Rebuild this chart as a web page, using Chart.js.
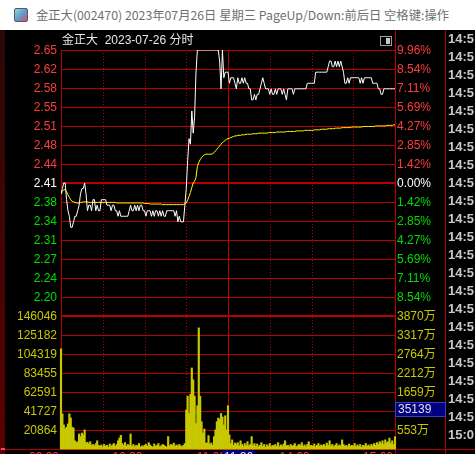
<!DOCTYPE html>
<html>
<head>
<meta charset="utf-8">
<script src="https://cdn.jsdelivr.net/npm/chart.js@4.4.0/dist/chart.umd.min.js"></script>
<style>
  html, body { margin: 0; padding: 0; background: #000; overflow: hidden; }
  #wrap { position: relative; width: 475px; height: 454px; }
  #titlebar { position: absolute; left: 0; top: 0; width: 475px; height: 30px; background: #fff;
    font: 12.3px "Noto Sans CJK SC", sans-serif; color: #707070; white-space: nowrap; z-index: 2; }
  #titlebar .ico { position: absolute; left: 14px; top: 8px; width: 12px; height: 12px; border-radius: 2px;
    background: linear-gradient(135deg, #9fd8c0 0%, #5aa0d0 50%, #e05050 100%); border: 1px solid #557; }
  #titlebar .txt { position: absolute; left: 36px; top: 6px; }
  #c { position: absolute; left: 0; top: 0; }
</style>
</head>
<body>
<div id="wrap">
  <div id="titlebar"><div class="ico"></div><div class="txt">金正大(002470) 2023年07月26日 星期三 PageUp/Down:前后日 空格键:操作</div></div>
  <canvas id="c" width="475" height="454"></canvas>
</div>
<script>
const prevClose = 2.41;
const chartTitle = "金正大  2023-07-26 分时";

// price axis ticks (left) and percent ticks (right)
const priceLabels = ["2.65", "2.62", "2.58", "2.55", "2.51", "2.48", "2.44", "2.41", "2.38", "2.34", "2.31", "2.27", "2.24", "2.20"];
const pctTicks = [9.96, 8.54, 7.11, 5.69, 4.27, 2.85, 1.42, 0, -1.42, -2.85, -4.27, -5.69, -7.11, -8.54];

// volume axis ticks (left) and amount labels (right)
const volTicks = [146046, 125182, 104319, 83455, 62591, 41727, 20864];
const amountLabels = ["3870万", "3317万", "2764万", "2212万", "1659万", "1106万", "553万"];

// time axis
const timeTicks = [0, 30, 60, 90, 120, 150, 180, 210, 240];
const timeLabelTicks = [0, 60, 120, 180, 240];
const timeLabels = ["09:30", "10:30", "11:30", "14:00", "15:00"];

// crosshair readout
const crossMinute = 116;
const crossTime = "11:26";
const crossVol = 35139;

// side list of trade times (cut off by the window)
const tradeTimes = ["14:5", "14:5", "14:5", "14:5", "14:5", "14:5", "14:5", "14:5", "14:5", "14:5", "14:5",
  "14:5", "14:5", "14:5", "14:5", "14:5", "14:5", "14:5", "14:5", "14:5", "14:5", "14:5", "15:0"];

// one value per minute, 241 minutes
const price = [
  2.39, 2.40, 2.41, 2.41, 2.38, 2.36, 2.35, 2.33, 2.33, 2.34,
  2.35, 2.35, 2.36, 2.37, 2.39, 2.40, 2.40, 2.41, 2.39, 2.36,
  2.37, 2.37, 2.36, 2.38, 2.38, 2.36, 2.37, 2.36, 2.36, 2.38,
  2.38, 2.38, 2.38, 2.37, 2.37, 2.37, 2.36, 2.37, 2.37, 2.36,
  2.36, 2.35, 2.36, 2.35, 2.35, 2.35, 2.35, 2.35, 2.35, 2.36,
  2.37, 2.36, 2.36, 2.37, 2.36, 2.37, 2.36, 2.37, 2.37, 2.36,
  2.36, 2.35, 2.36, 2.36, 2.36, 2.35, 2.36, 2.35, 2.36, 2.36,
  2.35, 2.36, 2.35, 2.36, 2.35, 2.35, 2.36, 2.36, 2.36, 2.36,
  2.36, 2.36, 2.35, 2.36, 2.34, 2.35, 2.34, 2.34, 2.34, 2.37,
  2.40, 2.45, 2.49, 2.48, 2.54, 2.50, 2.53, 2.61, 2.65, 2.65,
  2.65, 2.65, 2.65, 2.65, 2.65, 2.65, 2.65, 2.65, 2.65, 2.65,
  2.65, 2.65, 2.65, 2.65, 2.63, 2.58, 2.65, 2.60, 2.61, 2.61,
  2.61, 2.59, 2.60, 2.60, 2.60, 2.59, 2.58, 2.60, 2.59, 2.59,
  2.60, 2.59, 2.60, 2.59, 2.59, 2.58, 2.58, 2.56, 2.56, 2.57,
  2.56, 2.57, 2.57, 2.58, 2.59, 2.60, 2.59, 2.58, 2.58, 2.58,
  2.57, 2.58, 2.57, 2.57, 2.58, 2.57, 2.58, 2.58, 2.58, 2.57,
  2.58, 2.57, 2.56, 2.58, 2.58, 2.58, 2.58, 2.57, 2.58, 2.58,
  2.58, 2.58, 2.58, 2.58, 2.58, 2.58, 2.58, 2.59, 2.59, 2.59,
  2.59, 2.59, 2.59, 2.61, 2.61, 2.61, 2.61, 2.61, 2.61, 2.61,
  2.61, 2.61, 2.62, 2.63, 2.63, 2.62, 2.62, 2.63, 2.62, 2.63,
  2.62, 2.63, 2.62, 2.61, 2.59, 2.59, 2.60, 2.59, 2.60, 2.60,
  2.60, 2.60, 2.60, 2.60, 2.60, 2.59, 2.60, 2.59, 2.60, 2.60,
  2.60, 2.60, 2.60, 2.60, 2.59, 2.59, 2.59, 2.59, 2.58, 2.58,
  2.57, 2.57, 2.58, 2.58, 2.58, 2.58, 2.58, 2.58, 2.58, 2.58,
  2.58
];

const avgPrice = [
  2.390, 2.395, 2.398, 2.398, 2.394, 2.389, 2.384, 2.380, 2.377, 2.376,
  2.375, 2.374, 2.374, 2.374, 2.375, 2.375, 2.376, 2.376, 2.376, 2.376,
  2.375, 2.375, 2.375, 2.375, 2.375, 2.375, 2.375, 2.375, 2.375, 2.375,
  2.375, 2.375, 2.375, 2.375, 2.375, 2.375, 2.375, 2.375, 2.375, 2.375,
  2.374, 2.374, 2.374, 2.374, 2.374, 2.374, 2.374, 2.374, 2.374, 2.374,
  2.374, 2.374, 2.374, 2.374, 2.374, 2.374, 2.374, 2.374, 2.374, 2.374,
  2.373, 2.373, 2.373, 2.373, 2.372, 2.372, 2.372, 2.372, 2.372, 2.372,
  2.372, 2.372, 2.372, 2.371, 2.371, 2.371, 2.371, 2.371, 2.371, 2.371,
  2.371, 2.371, 2.371, 2.371, 2.371, 2.371, 2.371, 2.371, 2.371, 2.372,
  2.374, 2.379, 2.386, 2.393, 2.402, 2.410, 2.413, 2.420, 2.440, 2.447,
  2.452, 2.456, 2.459, 2.461, 2.462, 2.462, 2.462, 2.462, 2.462, 2.463,
  2.465, 2.468, 2.471, 2.474, 2.477, 2.480, 2.483, 2.485, 2.487, 2.489,
  2.490, 2.491, 2.492, 2.493, 2.494, 2.495, 2.495, 2.496, 2.496, 2.496,
  2.497, 2.497, 2.497, 2.498, 2.498, 2.498, 2.498, 2.498, 2.499, 2.499,
  2.499, 2.499, 2.500, 2.500, 2.500, 2.500, 2.500, 2.500, 2.500, 2.501,
  2.501, 2.501, 2.501, 2.501, 2.501, 2.502, 2.502, 2.502, 2.502, 2.502,
  2.502, 2.502, 2.503, 2.503, 2.503, 2.503, 2.503, 2.503, 2.503, 2.504,
  2.504, 2.504, 2.504, 2.504, 2.504, 2.505, 2.505, 2.505, 2.505, 2.505,
  2.505, 2.505, 2.506, 2.506, 2.506, 2.506, 2.506, 2.507, 2.507, 2.507,
  2.507, 2.507, 2.508, 2.508, 2.508, 2.508, 2.508, 2.509, 2.509, 2.509,
  2.509, 2.509, 2.510, 2.510, 2.510, 2.510, 2.510, 2.510, 2.510, 2.511,
  2.511, 2.511, 2.511, 2.511, 2.511, 2.511, 2.511, 2.512, 2.512, 2.512,
  2.512, 2.512, 2.512, 2.512, 2.512, 2.512, 2.513, 2.513, 2.513, 2.513,
  2.513, 2.513, 2.513, 2.513, 2.514, 2.514, 2.514, 2.514, 2.514, 2.515,
  2.515
];

const volume = [
  110000, 38600, 26500, 22000, 24000, 27600, 38600, 34000, 24000, 23000,
  9000, 7000, 8000, 16500, 13600, 17500, 15500, 21000, 6600, 7400,
  5500, 8000, 4000, 5000, 3500, 6000, 9000, 4000, 3000, 4500,
  2500, 5000, 3000, 4000, 2000, 5500, 3000, 4500, 6000, 3000,
  5000, 9000, 12000, 15000, 6000, 4000, 7000, 3000, 5000, 4000,
  16500, 3000, 5000, 2500, 4000, 3500, 6000, 2000, 3500, 2500,
  4000, 5000, 3000, 7000, 4500, 3000, 2000, 5500, 3000, 4000,
  6000, 2500, 3500, 5000, 4000, 3000, 2000, 13600, 3500, 5000,
  4000, 6500, 3000, 4500, 3000, 5000, 3500, 2500, 4000, 6000,
  43000, 58000, 39000, 60000, 89000, 76000, 58000, 28000, 47500, 133000,
  58000, 30000, 17500, 22000, 6600, 6600, 14700, 5000, 6600, 4000,
  13600, 21000, 30000, 34000, 32500, 39000, 35139, 26500, 36500, 21000,
  47500, 15500, 6000, 10000, 4000, 6600, 5000, 7000, 3500, 9000,
  5000, 3000, 6000, 4000, 8000, 3500, 5000, 13600, 4000, 6000,
  3000, 5500, 2500, 4000, 7000, 3000, 5000, 2000, 4500, 3000,
  6000, 2500, 4000, 3500, 5000, 3000, 7000, 2500, 4500, 3000,
  5500, 9000, 3500, 4000, 2500, 5000, 3000, 4000, 6000, 2500,
  3500, 5000, 4000, 7000, 3000, 4500, 2500, 5000, 8000, 3500,
  4000, 3000, 5500, 2500, 4000, 6000, 3000, 4500, 3500, 5000,
  3000, 6500, 4000, 9000, 3500, 5000, 2500, 4000, 6000, 3000,
  4500, 3500, 10000, 5000, 3000, 4000, 2500, 5500, 3000, 4000,
  3500, 6000, 2500, 4500, 3000, 5000, 2000, 4000, 3500, 6000,
  3000, 4500, 2500, 5000, 3500, 6000, 4000, 7000, 5000, 8000,
  6000, 9000, 5000, 10000, 7000, 8000, 12000, 6000, 9000, 5000,
  13600
];

const RED = "#b80000";
const UP = "#ff3c3c";
const DOWN = "#00dc00";
const VOLC = "#c8c800";
const FONT = '12px "Liberation Sans", "Noto Sans CJK SC", sans-serif';

// 21 equal rows: 13 for price, 1 gap, 7 for volume
const pctStep = 1.4228;
const priceMax = prevClose * (1 + pctTicks[0] / 100);
const priceMin = priceMax - prevClose * pctStep / 100 * 21;
const volMax = volTicks[0] * 3;

const toXY = arr => arr.map((v, i) => ({ x: i, y: v }));

const panelPlugin = {
  id: "panel",
  beforeDraw(chart) {
    const { ctx, width, height } = chart;
    ctx.save();
    ctx.fillStyle = "#000";
    ctx.fillRect(0, 0, width, height);
    const g = ctx.createLinearGradient(0, 30, 0, height);
    g.addColorStop(0, "#2a0808");
    g.addColorStop(1, "#5c0000");
    ctx.fillStyle = g;
    ctx.fillRect(0, 30, 5, height - 30);
    ctx.restore();
  },
  beforeDatasetsDraw(chart) {
    const { ctx, chartArea: a, scales: { x, y, yv } } = chart;
    ctx.save();
    ctx.strokeStyle = RED;
    const hline = (yy, x0, x1, w) => {
      const p = w === 2 ? Math.round(yy) : Math.round(yy) + 0.5;
      ctx.lineWidth = w;
      ctx.beginPath(); ctx.moveTo(x0, p); ctx.lineTo(x1, p); ctx.stroke();
    };
    pctTicks.forEach(p => hline(y.getPixelForValue(prevClose * (1 + p / 100)), a.left, a.right, p === 0 ? 2 : 1));
    volTicks.forEach((v, i) => hline(yv.getPixelForValue(v), a.left, a.right, i === 0 ? 2 : 1));
    hline(a.bottom, 0, chart.width, 1);

    timeTicks.forEach(m => {
      const px = Math.round(x.getPixelForValue(m)) + 0.5;
      const solid = m === 0 || m === 120 || m === 240;
      ctx.lineWidth = 1;
      ctx.setLineDash(solid ? [] : [1, 2]);
      ctx.beginPath();
      if (m === 240) { ctx.moveTo(px, 30); ctx.lineTo(px, chart.height); }
      else { ctx.moveTo(px, a.top); ctx.lineTo(px, a.bottom); }
      ctx.stroke();
    });
    ctx.setLineDash([]);
    ctx.beginPath(); ctx.moveTo(445.5, 30); ctx.lineTo(445.5, chart.height); ctx.stroke();
    ctx.restore();
  },
  afterDraw(chart) {
    const { ctx, chartArea: a, scales: { x, y, yv } } = chart;
    ctx.save();
    ctx.font = FONT;
    ctx.textBaseline = "middle";

    // header row
    ctx.fillStyle = "#e8e8e8";
    ctx.textAlign = "left";
    ctx.fillText(chartTitle, 62, 41);
    ctx.strokeStyle = "#a0a0a0";
    ctx.lineWidth = 1;
    ctx.strokeRect(380.5, 36.5, 11, 9);
    ctx.fillStyle = "#c8c8c8";
    ctx.fillRect(386, 38, 4, 6);

    // price and percent labels
    pctTicks.forEach((p, i) => {
      const py = y.getPixelForValue(prevClose * (1 + p / 100)) + 1;
      ctx.fillStyle = p > 0 ? UP : (p < 0 ? DOWN : "#ffffff");
      ctx.textAlign = "right";
      ctx.fillText(priceLabels[i], 57, py);
      ctx.textAlign = "left";
      ctx.fillText(Math.abs(p).toFixed(2) + "%", 397, py);
    });

    // volume labels
    ctx.fillStyle = VOLC;
    volTicks.forEach((v, i) => {
      const py = yv.getPixelForValue(v) + 1;
      ctx.textAlign = "right";
      ctx.fillText(String(v), 57, py);
      ctx.textAlign = "left";
      ctx.fillText(amountLabels[i], 397, py);
    });

    // crosshair value box
    const by = Math.round(yv.getPixelForValue(crossVol));
    ctx.fillStyle = "#000080";
    ctx.fillRect(396, by - 14, 49, 14);
    ctx.strokeStyle = "#3c3cc8";
    ctx.strokeRect(395.5, by - 14.5, 50, 14);
    ctx.fillStyle = "#e0e0e0";
    ctx.textAlign = "left";
    ctx.fillText(String(crossVol), 398, by - 7);

    // time labels under the chart (mostly cut off)
    ctx.textBaseline = "top";
    ctx.fillStyle = UP;
    ctx.textAlign = "right";
    timeLabelTicks.forEach((m, i) => {
      ctx.fillText(timeLabels[i], x.getPixelForValue(m) - 2, a.bottom + 3);
    });
    const bx = Math.round(x.getPixelForValue(crossMinute));
    ctx.fillStyle = "#000080";
    ctx.fillRect(bx, a.bottom + 1, 33, 10);
    ctx.fillStyle = "#e0e0e0";
    ctx.textAlign = "left";
    ctx.fillText(crossTime, bx + 2, a.bottom + 3);

    // trade time column
    ctx.font = 'bold 13px "Liberation Sans", sans-serif';
    ctx.fillStyle = "#c8c8c8";
    ctx.textBaseline = "middle";
    tradeTimes.forEach((t, i) => ctx.fillText(t, 448, 39.5 + i * 18));

    ctx.fillStyle = "#ff4080";
    ctx.fillRect(1, 448, 4, 2);
    ctx.restore();
  }
};

new Chart(document.getElementById("c").getContext("2d"), {
  type: "line",
  data: {
    datasets: [
      {
        type: "line",
        data: toXY(price),
        yAxisID: "y",
        borderColor: "#ffffff",
        borderWidth: 1,
        pointRadius: 0,
        tension: 0,
        order: 0
      },
      {
        type: "line",
        data: toXY(avgPrice),
        yAxisID: "y",
        borderColor: "#ffff00",
        borderWidth: 1,
        pointRadius: 0,
        tension: 0,
        order: 1
      },
      {
        type: "bar",
        data: toXY(volume),
        yAxisID: "yv",
        backgroundColor: VOLC,
        barThickness: 1.5,
        clip: false,
        order: 2
      }
    ]
  },
  options: {
    responsive: false,
    animation: false,
    devicePixelRatio: 1,
    layout: { padding: { left: 61, right: 80, top: 50, bottom: 5 } },
    plugins: { legend: { display: false }, tooltip: { enabled: false } },
    scales: {
      x: { type: "linear", min: 0, max: 240, offset: false, display: false },
      y: { type: "linear", min: priceMin, max: priceMax, display: false },
      yv: { type: "linear", min: 0, max: volMax, display: false }
    }
  },
  plugins: [panelPlugin]
});
</script>
</body>
</html>
